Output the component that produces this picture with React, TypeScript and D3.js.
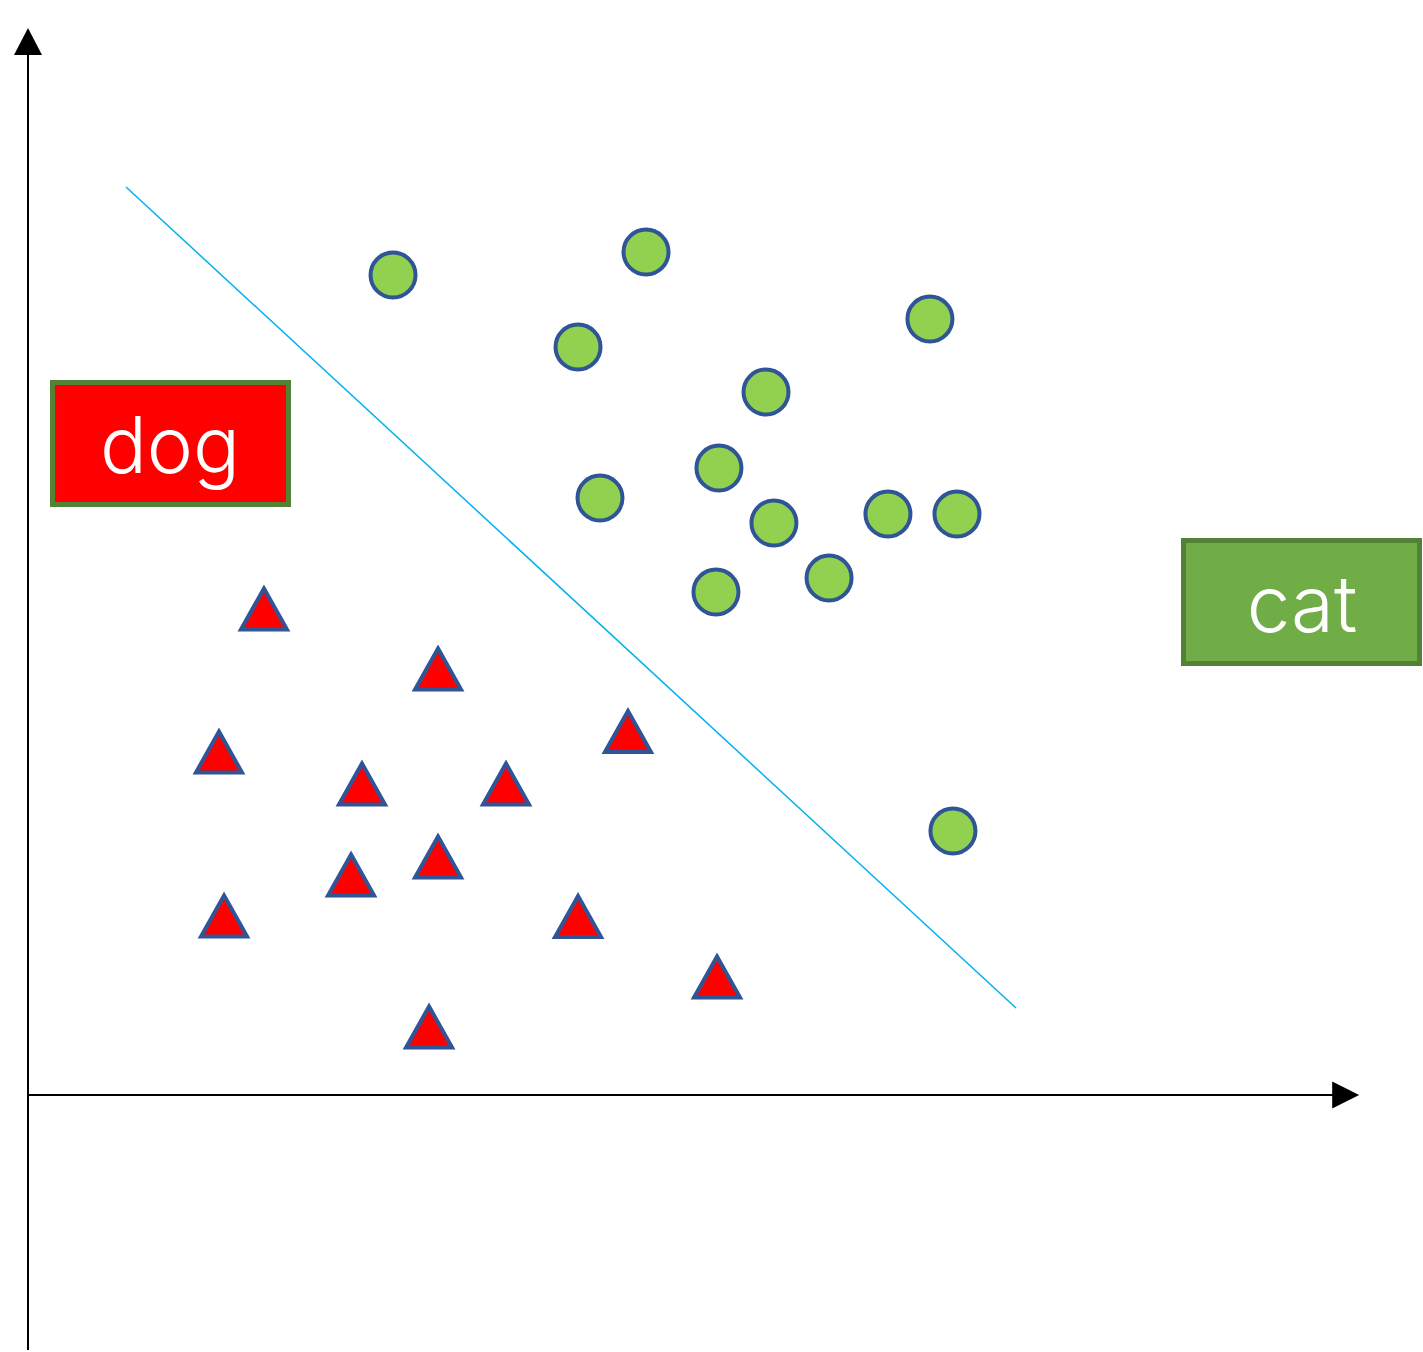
import React from "react";
import * as d3 from "d3";

const W = 1423;
const H = 1352;

// circles ("cat" class), in data units
const catX = [28.08, 47.54, 42.31, 69.38, 56.77, 53.15, 44.0, 57.38, 66.15, 71.46, 61.62, 52.92, 71.15];
const catY = [82.0, 84.3, 74.8, 77.6, 70.3, 62.7, 59.7, 57.2, 58.1, 58.1, 51.7, 50.3, 26.4];

// triangles ("dog" class)
const dogX = [18.15, 31.54, 14.69, 25.69, 36.77, 46.15, 31.54, 24.85, 15.08, 42.31, 53.0, 30.85];
const dogY = [48.6, 42.6, 34.3, 31.1, 31.1, 36.35, 23.8, 22.0, 17.9, 17.85, 11.8, 6.8];

// separating line endpoints
const lineX = [7.54, 76.0];
const lineY = [90.8, 8.7];

const labels = ["dog", "cat"];

export default function App() {
  const x = d3.scaleLinear().domain([0, 100]).range([28, 1328]);
  const y = d3.scaleLinear().domain([0, 100]).range([1095, 95]);

  const ox = x(0);
  const oy = y(0);
  const yTop = y(106.7);
  const yBottom = y(-25.5);
  const xTip = x(102.4);

  const lineGen = d3.line<number>().x((_, i) => x(lineX[i])).y((_, i) => y(lineY[i]));
  const lineD = lineGen(lineX) || "";

  const triPath = (cx: number, cy: number) => {
    const hw = 23, hh = 20.5;
    return `M${cx},${cy - hh}L${cx + hw},${cy + hh}L${cx - hw},${cy + hh}Z`;
  };

  const font = "Inter, 'Noto Sans', sans-serif";

  return (
    <svg width={W} height={H} style={{ position: "absolute", left: 0, top: 0, background: "#fff" }}>
      {/* y axis */}
      <line x1={ox} y1={yBottom} x2={ox} y2={yTop + 20} stroke="#000" strokeWidth={2} />
      <path d={`M${ox},${yTop}L${ox + 14},${yTop + 27}L${ox - 14},${yTop + 27}Z`} fill="#000" />
      {/* x axis */}
      <line x1={ox} y1={oy} x2={xTip - 20} y2={oy} stroke="#000" strokeWidth={2} />
      <path d={`M${xTip},${oy}L${xTip - 27},${oy - 13.5}L${xTip - 27},${oy + 13.5}Z`} fill="#000" />

      {/* separating line */}
      <path d={lineD} stroke="#00B0F0" strokeWidth={1.5} fill="none" />

      {/* circles */}
      {catX.map((cx, i) => (
        <circle key={"c" + i} cx={x(cx)} cy={y(catY[i])} r={22.5} fill="#92D050" stroke="#2F5597" strokeWidth={4} />
      ))}
      {/* triangles */}
      {dogX.map((cx, i) => (
        <path key={"t" + i} d={triPath(x(cx), y(dogY[i]))} fill="#FF0000" stroke="#2F5597" strokeWidth={4} strokeLinejoin="miter" />
      ))}

      {/* dog label */}
      <rect x={52.5} y={382.5} width={236} height={122} fill="#FF0000" stroke="#538135" strokeWidth={5} />
      <text x={170} y={473} fill="#fff" fontSize={78} fontWeight={300} fontFamily={font} textAnchor="middle">{labels[0]}</text>

      {/* cat label */}
      <rect x={1183.5} y={540.5} width={236} height={123} fill="#70AD47" stroke="#538135" strokeWidth={5} />
      <text x={1302} y={632} fill="#fff" fontSize={78} fontWeight={300} fontFamily={font} textAnchor="middle">{labels[1]}</text>
    </svg>
  );
}
